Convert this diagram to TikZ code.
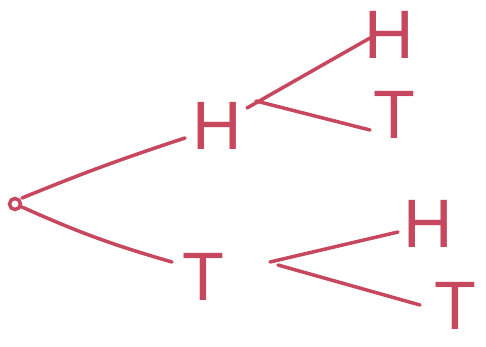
\documentclass[tikz,border=0pt]{standalone}
\usepackage{fontspec}
\setmainfont{Liberation Sans}
\definecolor{ink}{RGB}{199,72,94}
\begin{document}
\begin{tikzpicture}[x=0.02cm,y=-0.02cm,
  stroke/.style={draw=ink,line width=2pt,line cap=round},
  letter/.style={text=ink,inner sep=0pt,font=\fontsize{39}{39}\selectfont},
  rootdot/.style={circle,draw=ink,line width=2pt,minimum size=0.22cm,inner sep=0pt}]
  \useasboundingbox (0,0) rectangle (486,346);
  % root of the tree
  \node[rootdot] (r) at (15,204) {};
  % first toss
  \node[letter] (h1) at (217,126) {H};
  \node[letter] (t1) at (203,277) {T};
  % second toss
  \node[letter] (h2) at (389,35) {H};
  \node[letter] (t2) at (394,115) {T};
  \node[letter] (h3) at (428,224) {H};
  \node[letter] (t3) at (455,306) {T};
  % branches of the first toss
  \draw[stroke] ([shift={(7,-6)}]r.center) to[bend left=2] ([shift={(-32,12)}]h1.center);
  \draw[stroke] ([shift={(7,3)}]r.center) to[bend right=4] ([shift={(-31,-15)}]t1.center);
  % branches of the second toss
  \draw[stroke] ([shift={(30,-18)}]h1.center) -- ([shift={(-19,3)}]h2.center);
  \draw[stroke] ([shift={(39,-25)}]h1.center) -- ([shift={(-24,15)}]t2.center);
  \draw[stroke] ([shift={(67,-15)}]t1.center) -- ([shift={(-30,8)}]h3.center);
  \draw[stroke] ([shift={(75,-12)}]t1.center) -- ([shift={(-35,-1)}]t3.center);
\end{tikzpicture}
\end{document}
